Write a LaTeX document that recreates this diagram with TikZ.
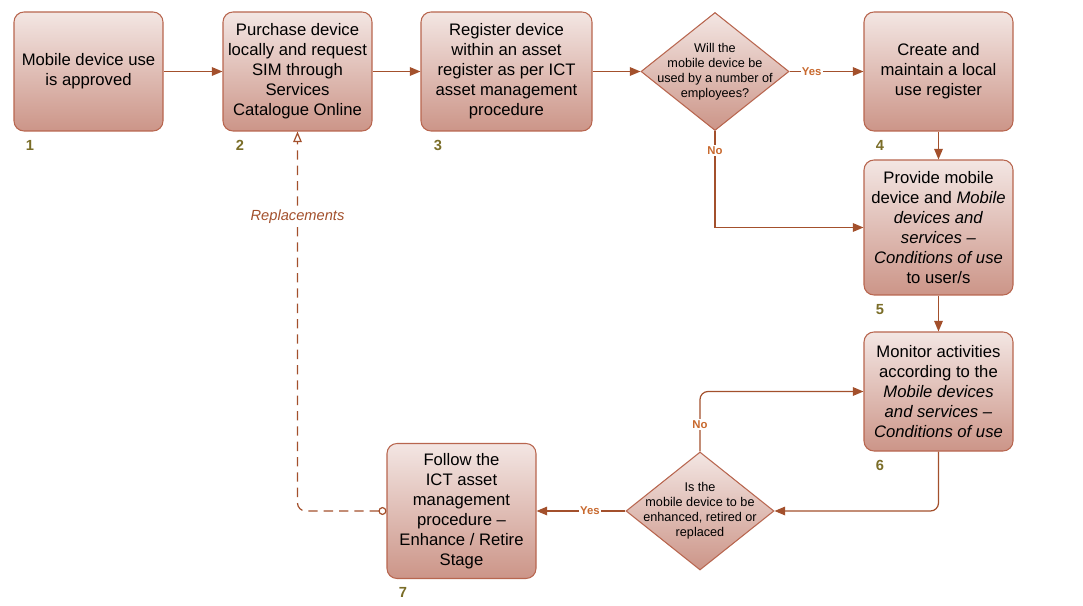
\documentclass[tikz,border=0pt]{standalone}
\usepackage{fontspec}
\setmainfont{Liberation Sans}
\usetikzlibrary{shapes.geometric, arrows.meta}

\definecolor{boxtop}{HTML}{F3E6E3}
\definecolor{boxbot}{HTML}{CC9588}
\definecolor{boxline}{HTML}{B8664F}
\definecolor{flowline}{HTML}{A3502C}
\definecolor{yesno}{HTML}{C8692E}
\definecolor{stepnum}{HTML}{7A6D28}

\begin{document}
\begin{tikzpicture}[x=0.75pt, y=-0.75pt,
                        box/.style={rectangle, rounded corners=7.5pt, draw=boxline, line width=0.8pt,
                                    top color=boxtop, bottom color=boxbot, minimum width=111.75pt,
                                    minimum height=89.25pt, align=center, inner sep=1pt,
                                    font=\fontsize{12.5}{15}\selectfont},
                        tallbox/.style={box, minimum height=101.25pt},
                        widebox/.style={box, minimum width=128.25pt},
                        decision/.style={diamond, draw=boxline, line width=0.8pt, top color=boxtop,
                                    bottom color=boxbot, minimum width=111pt, minimum height=88.5pt, inner sep=0pt},
                        question/.style={align=center, font=\fontsize{9.5}{11.25}\selectfont},
                        stepno/.style={font=\bfseries\fontsize{11}{12}\selectfont, text=stepnum},
                        answer/.style={font=\bfseries\fontsize{8.5}{10}\selectfont, text=yesno, fill=white, inner sep=1pt},
                        flow/.style={draw=flowline, line width=0.9pt, -{Triangle[length=8pt, width=6.5pt]}}]

                        \useasboundingbox (0,0) rectangle (1083,606);

                        % Steps
                        \node[box] (A) at (88.5,71.5) {Mobile device use\\is approved}; % Step 1
                        \node[box] (B) at (297.5,71.5) {Purchase device\\locally and request\\SIM through\\Services\\Catalogue Online}; % Step 2
                        \node[widebox] (C) at (506.5,71.5) {Register device\\within an asset\\register as per ICT\\asset management\\procedure}; % Step 3
                        \node[decision, label={[question]center:{Will the\\mobile device be\\used by a number of\\employees?}}] (D) at (715,71.5) {}; % Question 1
                        \node[box] (E) at (938.5,71.5) {Create and\\maintain a local\\use register}; % Step 4
                        \node[tallbox] (F) at (938.5,227.5) {Provide mobile\\device and \textit{Mobile}\\\textit{devices and}\\\textit{services --}\\\textit{Conditions of use}\\to user/s}; % Step 5
                        \node[box] (G) at (938.5,391.5) {Monitor activities\\according to the\\\textit{Mobile devices}\\\textit{and services --}\\\textit{Conditions of use}}; % Step 6
                        \node[decision, label={[question]center:{Is the\\mobile device to be\\enhanced, retired or\\replaced}}] (H) at (700,511) {}; % Question 2
                        \node[tallbox] (I) at (461.5,511) {Follow the\\ICT asset\\management\\procedure --\\Enhance / Retire\\Stage}; % Step 7

                        % Step numbers
                        \node[stepno] (n1) at (30,145) {1};
                        \node[stepno] (n2) at (240,145) {2};
                        \node[stepno] (n3) at (438,145) {3};
                        \node[stepno] (n4) at (880,145) {4};
                        \node[stepno] (n5) at (880,310) {5};
                        \node[stepno] (n6) at (880,465) {6};
                        \node[stepno] (n7) at (403,592) {7};

                        % Define edges
                        \path (A) edge[flow] (B);
                        \path (B) edge[flow] (C);
                        \path (C) edge[flow] (D);
                        \path (D) edge[flow] node[answer, pos=0.3] {Yes} (E);
                        \draw[flow] (D.south) |- node[answer, pos=0.1] {No} (F.west);
                        \path (E) edge[flow] (F);
                        \path (F) edge[flow] (G);
                        \draw[flow, rounded corners=6pt] (G.south) |- (H.east);
                        \draw[flow, rounded corners=6pt] (H.north) |- node[answer, pos=0.225] {No} (G.west);
                        \path (H) edge[flow] node[answer, pos=0.4] {Yes} (I);
                        \draw[draw=flowline, line width=0.9pt, dash pattern=on 7pt off 4.5pt, rounded corners=6pt,
                              {Circle[length=6pt, fill=white]}-{Triangle[open, length=8pt, width=6.5pt, fill=white]}]
                              (I.west) -| node[pos=0.888, fill=white, inner sep=1pt, text=flowline,
                              font=\itshape\fontsize{11}{13}\selectfont] {Replacements} (B.south);
                    \end{tikzpicture}
\end{document}
